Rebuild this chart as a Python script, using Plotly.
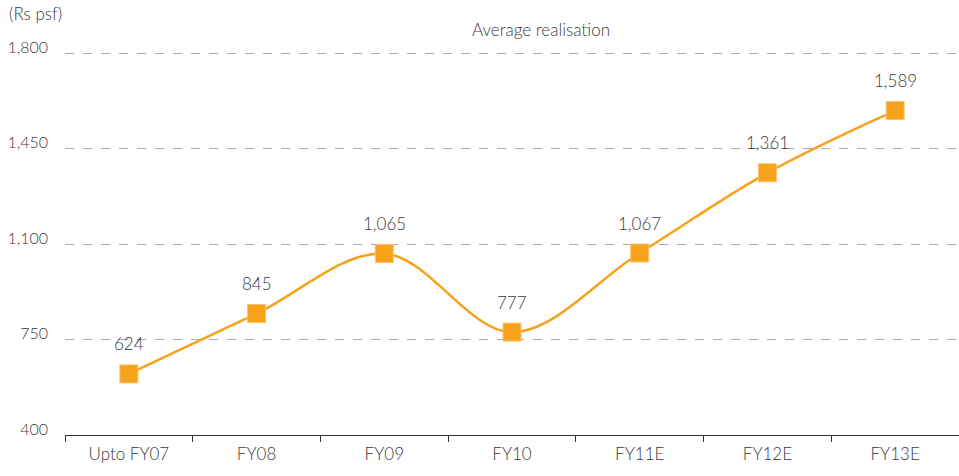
import plotly.graph_objects as go

categories = ["Upto FY07", "FY08", "FY09", "FY10", "FY11E", "FY12E", "FY13E"]
values = [624, 845, 1065, 777, 1067, 1361, 1589]
tick_vals = [400, 750, 1100, 1450, 1800]
tick_text = ["400", "750", "1,100", "1,450", "1,800"]
labels = [f"{v:,}" for v in values]

font_family = "Lato, 'Open Sans', sans-serif"
orange = "#F7A21B"
text_color = "#3a3a3a"
fs = 17

fig = go.Figure()
fig.add_trace(go.Scatter(
    x=categories, y=values, mode="lines+markers",
    line=dict(color=orange, width=2.5, shape="spline", smoothing=1.0),
    marker=dict(symbol="square", size=18, color=orange,
                line=dict(color="#FBC36A", width=1)),
    cliponaxis=False, hoverinfo="skip",
))

annotations = [
    dict(x=c, y=v, xref="x", yref="y", text=t, showarrow=False,
         yshift=30, font=dict(size=fs, color=text_color, weight=300))
    for c, v, t in zip(categories, values, labels)
]

top = 50
pw = 959 - 65
ph = 476 - top - 41
annotations.append(dict(text="Average realisation", xref="paper", yref="paper",
                        x=(541 - 65) / pw, y=(476 - 41 - 30) / ph,
                        xanchor="center", yanchor="middle", showarrow=False,
                        font=dict(size=fs, color=text_color, weight=300)))
annotations.append(dict(text="(Rs psf)", xref="paper", yref="paper",
                        x=(7 - 65) / pw, y=(476 - 41 - 14) / ph,
                        xanchor="left", yanchor="middle", showarrow=False,
                        font=dict(size=fs, color=text_color, weight=300)))

fig.update_layout(
    width=959, height=476,
    margin=dict(l=65, r=0, t=top, b=41, autoexpand=False),
    paper_bgcolor="white", plot_bgcolor="white",
    showlegend=False,
    font=dict(family=font_family, size=fs, color=text_color, weight=300),
    xaxis=dict(
        type="category", range=[-0.5, 6.5],
        showline=True, linecolor="#333", linewidth=1.2,
        ticks="outside", tickson="boundaries", ticklen=6, tickcolor="#333",
        showgrid=False, tickfont=dict(size=fs, color=text_color, weight=300),
        ticklabelstandoff=3,
    ),
    yaxis=dict(
        range=[400, 1811], tickvals=tick_vals, ticktext=tick_text,
        showgrid=True, gridcolor="#AAAAAA", griddash="dash", gridwidth=1,
        zeroline=False, showline=False, ticks="",
        tickfont=dict(size=16, color=text_color, weight=300),
        ticklabelstandoff=16, ticklabelshift=-6,
    ),
    annotations=annotations,
)

fig.write_html("out.html", config={"displayModeBar": False},
               post_script="document.body.style.margin='0';")
